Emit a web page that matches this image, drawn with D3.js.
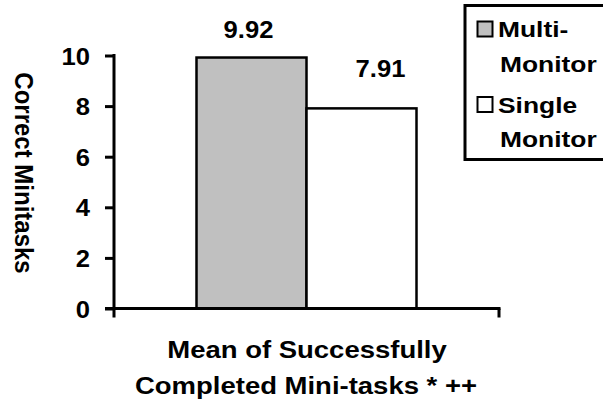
<!DOCTYPE html>
<html>
<head>
<meta charset="utf-8">
<script src="https://cdn.jsdelivr.net/npm/d3@7"></script>
<style>
  html, body { margin: 0; padding: 0; background: #fff; }
  svg { display: block; }
  text { font-family: Arial, "Liberation Sans", sans-serif; font-weight: bold; fill: #000; }
</style>
</head>
<body>
<svg id="chart" width="603" height="402"></svg>
<script>
// Data
const categories = ["Mean of Successfully Completed Mini-tasks * ++"];
const seriesNames = ["Multi-Monitor", "Single Monitor"];
const seriesValues = [9.92, 7.91];
const seriesFills = ["#c0c0c0", "#ffffff"];
const yTicks = [0, 2, 4, 6, 8, 10];
const legendLines = [["Multi-", "Monitor"], ["Single", "Monitor"]];
const xTitleLines = ["Mean of Successfully", "Completed Mini-tasks * ++"];
const yTitle = "Correct Minitasks";

const svg = d3.select("#chart");

const plot = { left: 114, right: 499, top: 55.5, bottom: 308.5 };

const y = d3.scaleLinear().domain([0, 10]).range([plot.bottom, plot.top]);
const x0 = d3.scaleBand().domain(categories).range([plot.left, plot.right])
  .paddingInner(0).paddingOuter(0.375);
const x1 = d3.scaleBand().domain(seriesNames).range([0, x0.bandwidth()]);

// Text with a horizontal stretch factor
function stretchedText(g, x, yPos, str, size, sx, anchor) {
  return g.append("text")
    .attr("transform", `translate(${x},${yPos}) scale(${sx},1)`)
    .attr("text-anchor", anchor || "start")
    .style("font-size", size + "px")
    .text(str);
}

// Bars
const group = svg.append("g").attr("transform", `translate(${x0(categories[0])},0)`);
group.selectAll("rect")
  .data(seriesNames.map((n, i) => ({ name: n, value: seriesValues[i], fill: seriesFills[i] })))
  .join("rect")
  .attr("x", d => x1(d.name))
  .attr("y", d => y(d.value))
  .attr("width", x1.bandwidth())
  .attr("height", d => y(0) - y(d.value))
  .attr("fill", d => d.fill)
  .attr("stroke", "#000")
  .attr("stroke-width", 2.5);

// Value labels
const labelDx = [-3, 19];
const labelDy = [-20, -31];
seriesNames.forEach((n, i) => {
  const cx = x0(categories[0]) + x1(n) + x1.bandwidth() / 2 + labelDx[i];
  stretchedText(svg, cx, y(seriesValues[i]) + labelDy[i], seriesValues[i].toFixed(2), 23.5, 1.09, "middle");
});

// Y axis
const yAxis = d3.axisLeft(y).tickValues(yTicks).tickSize(9).tickPadding(0).tickFormat(d3.format("d"));
const gy = svg.append("g").attr("transform", `translate(${plot.left},0)`).call(yAxis);
gy.select(".domain").remove();
gy.selectAll(".tick line").attr("stroke", "#000").attr("stroke-width", 3);
gy.selectAll(".tick text").remove();
yTicks.forEach(t => {
  stretchedText(svg, 90, y(t) + 9, String(t), 23.5, 1.09, "end");
});
svg.append("line")
  .attr("x1", plot.left).attr("x2", plot.left)
  .attr("y1", y(10) - 1.5).attr("y2", y(0) + 9)
  .attr("stroke", "#000").attr("stroke-width", 3);

// X axis
svg.append("line")
  .attr("x1", plot.left - 9).attr("x2", plot.right + 1.5)
  .attr("y1", y(0)).attr("y2", y(0))
  .attr("stroke", "#000").attr("stroke-width", 3);
svg.append("line")
  .attr("x1", plot.right).attr("x2", plot.right)
  .attr("y1", y(0)).attr("y2", y(0) + 9)
  .attr("stroke", "#000").attr("stroke-width", 3);

// Axis titles
stretchedText(svg, 307, 357.5, xTitleLines[0], 23.3, 1.18, "middle");
stretchedText(svg, 306, 393.5, xTitleLines[1], 23.3, 1.18, "middle");
svg.append("text")
  .attr("transform", `translate(15,173) rotate(90) scale(1,1.05)`)
  .attr("text-anchor", "middle")
  .style("font-size", "24px")
  .text(yTitle);

// Legend
const lg = svg.append("g");
lg.append("rect")
  .attr("x", 465).attr("y", 5.5).attr("width", 145).attr("height", 154)
  .attr("fill", "#fff").attr("stroke", "#000").attr("stroke-width", 3);
const legendTop = [21.5, 97];
seriesNames.forEach((n, i) => {
  lg.append("rect")
    .attr("x", 477.5).attr("y", legendTop[i]).attr("width", 15).attr("height", 15)
    .attr("fill", seriesFills[i]).attr("stroke", "#000").attr("stroke-width", 2);
  stretchedText(lg, 498, legendTop[i] + 15.5, legendLines[i][0], 22, 1.2, "start");
  stretchedText(lg, 500, legendTop[i] + 50, legendLines[i][1], 22, 1.2, "start");
});
</script>
</body>
</html>
